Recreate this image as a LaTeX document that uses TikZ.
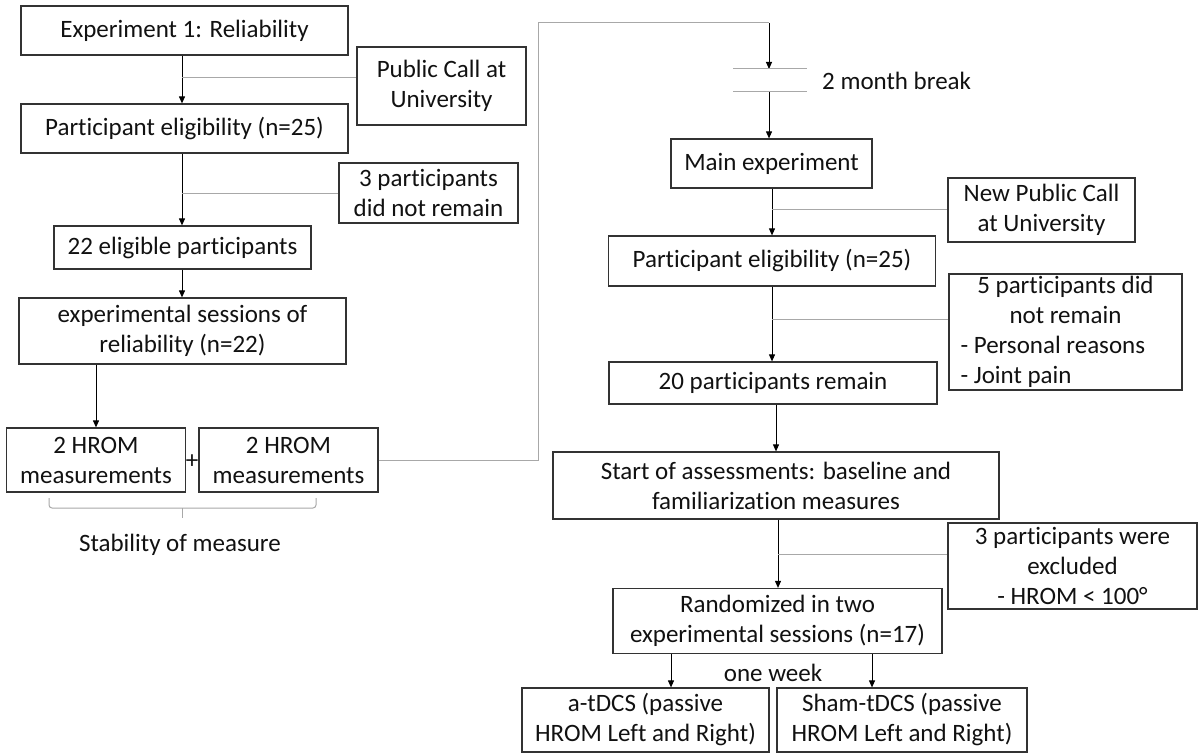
\documentclass[tikz,border=0pt]{standalone}
\usepackage{fontspec}
\setmainfont{Carlito}[Ligatures={NoCommon}]
\usetikzlibrary{arrows.meta,calc}
\definecolor{boxc}{HTML}{333333}
\definecolor{linec}{HTML}{A8A8A8}
\definecolor{txtc}{HTML}{111111}
\tikzset{
  box/.style={draw=boxc, line width=1.2pt, inner sep=0pt, align=center,
    font=\fontsize{25}{30}\selectfont, text=txtc},
  arr/.style={draw=black, line width=1pt, -{Triangle[length=7pt,width=6pt]}},
  gl/.style={draw=linec, line width=1pt},
  lbl/.style={inner sep=0pt, font=\fontsize{25}{30}\selectfont, text=txtc}
}
\begin{document}
\begin{tikzpicture}[x=1pt,y=-1pt]
\useasboundingbox (0,0) rectangle (1198,754);

% ---------- left column ----------
\node[box,minimum width=327pt,minimum height=49pt] (e1) at (184.5,30.5) {Experiment 1: Reliability};
\node[box,minimum width=169pt,minimum height=78pt] (pc) at (441.5,86) {Public Call at\\University};
\node[box,minimum width=327pt,minimum height=49pt] (pe1) at (184.5,128.5) {Participant eligibility (n=25)};
\node[box,minimum width=179pt,minimum height=60pt] (dnr) at (428.5,193) {3 participants\\did not remain};
\node[box,minimum width=257pt,minimum height=43pt] (e22) at (182.5,247.5) {22 eligible participants};
\node[box,minimum width=327pt,minimum height=66pt] (esr) at (182.5,331) {experimental sessions of\\reliability (n=22)};
\node[box,minimum width=179pt,minimum height=64pt] (h1) at (96,460) {2 HROM\\measurements};
\node[box,minimum width=179pt,minimum height=64pt] (h2) at (288.5,460) {2 HROM\\measurements};
\node[lbl] (plus) at (192,462) {+};
\node[lbl] (stab) at (180,545) {Stability of measure};

\coordinate (axl) at (182,0);
\coordinate (c1) at (182,78);
\coordinate (c2) at (182,193);
\draw[arr] (e1.south -| axl) -- (pe1.north -| axl);
\draw[gl] (c1) -- (c1 -| pc.west);
\draw[arr] (pe1.south -| axl) -- (e22.north -| axl);
\draw[gl] (c2) -- (c2 -| dnr.west);
\draw[arr] (e22.south -| axl) -- (esr.north -| axl);
\draw[arr] (esr.south -| h1.north) -- (h1.north);

% brace
\draw[gl, rounded corners=3pt] (49,498) -- (49,508) -- (316,508) -- (316,498);
\draw[gl] (182,508) -- (182,518);

% connector to right column
\coordinate (vl) at (538,23);
\coordinate (topc) at (769,23);
\coordinate (bk1) at (769,69);
\coordinate (bk2) at (769,92);
\draw[gl] (h2.east) -| (vl) -- (topc);
\draw[arr] (topc) -- (bk1);
\draw[gl] ($(bk1)+(-36,0)$) -- ($(bk1)+(38,0)$);
\draw[gl] ($(bk2)+(-36,0)$) -- ($(bk2)+(38,0)$);
\node[lbl, anchor=west] (brk) at (822,81) {2 month break};

% ---------- right column ----------
\node[box,minimum width=201pt,minimum height=49pt] (me) at (771.5,163.5) {Main experiment};
\node[box,minimum width=187pt,minimum height=64pt] (npc) at (1041.5,210) {New Public Call\\at University};
\node[box,minimum width=327pt,minimum height=50pt] (pe2) at (772,261) {Participant eligibility (n=25)};
\node[box,minimum width=233pt,minimum height=116pt] (fp) at (1065.5,332)
  {5 participants did\\not remain\\\makebox[210pt][l]{- Personal reasons}\\\makebox[210pt][l]{- Joint pain}};
\node[box,minimum width=328pt,minimum height=42pt] (r20) at (773,383) {20 participants remain};
\node[box,minimum width=446pt,minimum height=67pt] (soa) at (776,485.5) {Start of assessments: baseline and\\familiarizat\kern0pt ion measures};
\node[box,minimum width=249pt,minimum height=86pt] (ex) at (1072.5,566) {3 participants were\\excluded\\- HROM < 100°};
\node[box,minimum width=329pt,minimum height=65pt] (rnd) at (777.5,621) {Randomized in two\\experimental sessions (n=17)};
\node[lbl] (ow) at (773,673) {one week};
\node[box,minimum width=247pt,minimum height=64pt] (ta) at (645.5,720) {a-tDCS (passive\\HROM Left and Right)};
\node[box,minimum width=250pt,minimum height=64pt] (ts) at (902,720) {Sham-tDCS (passive\\HROM Left and Right)};

\draw[arr] (bk2) -- (bk2 |- me.north);
\coordinate (c3) at (772,209);
\coordinate (c4) at (772,319);
\coordinate (c5) at (778,554);
\draw[arr] (me.south -| c3) -- (pe2.north -| c3);
\draw[gl] (c3) -- (c3 -| npc.west);
\draw[arr] (pe2.south -| c4) -- (r20.north -| c4);
\draw[gl] (c4) -- (c4 -| fp.west);
\draw[arr] (r20.south -| soa.north) -- (soa.north);
\draw[arr] (soa.south -| c5) -- (rnd.north -| c5);
\draw[gl] (c5) -- (c5 -| ex.west);
\coordinate (a1) at (671,0);
\coordinate (a2) at (872,0);
\draw[arr] (rnd.south -| a1) -- (ta.north -| a1);
\draw[arr] (rnd.south -| a2) -- (ts.north -| a2);
\end{tikzpicture}
\end{document}
